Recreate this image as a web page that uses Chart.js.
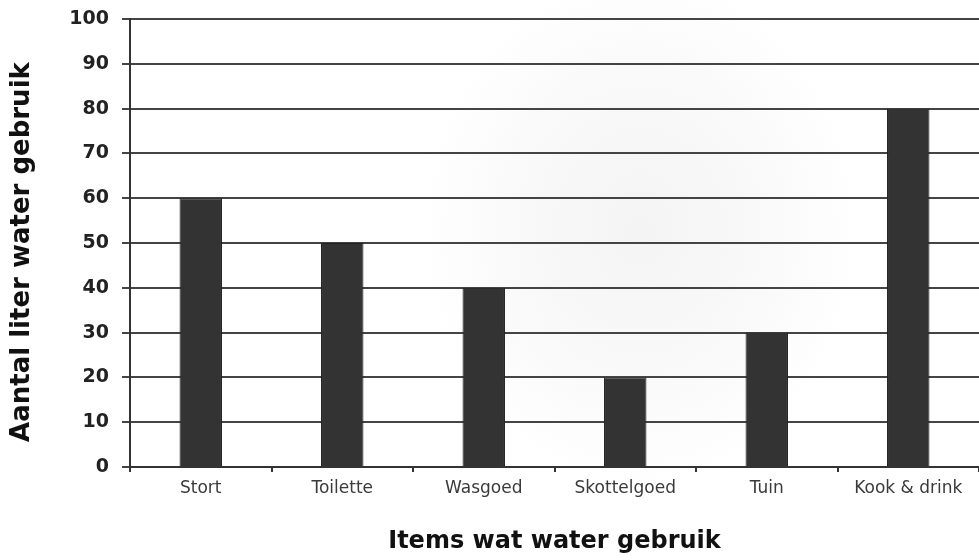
<!DOCTYPE html>
<html>
<head>
<meta charset="utf-8">
<script src="https://cdn.jsdelivr.net/npm/chart.js@4/dist/chart.umd.min.js"></script>
<style>
  html, body { margin: 0; padding: 0; }
  body {
    width: 979px; height: 560px; overflow: hidden;
    background: radial-gradient(ellipse 220px 260px at 640px 230px, #f4f4f4 0%, #f9f9f9 55%, #ffffff 100%);
  }
  #wrap { position: relative; width: 979px; height: 560px; }
</style>
</head>
<body>
<div id="wrap"><canvas id="waterChart"></canvas></div>
<script>
// Water use per item (liters)
const categories = ["Stort", "Toilette", "Wasgoed", "Skottelgoed", "Tuin", "Kook & drink"];
const liters = [60, 50, 40, 20, 30, 80];
const yTicks = [0, 10, 20, 30, 40, 50, 60, 70, 80, 90, 100];

document.addEventListener("DOMContentLoaded", function () {
  const ctx = document.getElementById("waterChart").getContext("2d");
  new Chart(ctx, {
    type: "bar",
    data: {
      labels: categories,
      datasets: [
        {
          label: "Liter",
          data: liters,
          backgroundColor: "#333333",
          borderColor: "#222222",
          borderWidth: 1,
          barPercentage: 0.3,
          categoryPercentage: 1.0,
        },
      ],
    },
    options: {
      responsive: true,
      maintainAspectRatio: false,
      animation: false,
      layout: { padding: { top: 19, right: 0, left: 0, bottom: 0 } },
      plugins: {
        legend: { display: false },
        tooltip: { enabled: false },
      },
      scales: {
        x: {
          offset: true,
          grid: {
            display: true,
            drawOnChartArea: false,
            drawTicks: true,
            tickLength: 5,
            color: "#333333",
            lineWidth: 2,
          },
          border: { display: true, color: "#333333", width: 2 },
          ticks: {
            padding: 6,
            color: "#3a3a3a",
            font: { family: "DejaVu Sans", size: 17 },
            maxRotation: 0,
            autoSkip: false,
          },
          title: {
            display: true,
            text: "Items wat water gebruik",
            color: "#111111",
            font: { family: "DejaVu Sans", size: 24, weight: "bold" },
            padding: { top: 0, bottom: 4 },
          },
          afterFit: function (scale) {
            scale.height = 93;
          },
        },
        y: {
          min: 0,
          max: 100,
          afterBuildTicks: function (scale) {
            scale.ticks = yTicks.map((v) => ({ value: v }));
          },
          grid: {
            color: "#444444",
            lineWidth: 2,
            drawTicks: true,
            tickLength: 8,
          },
          border: { display: true, color: "#333333", width: 2 },
          ticks: {
            padding: 13,
            color: "#222222",
            font: { family: "DejaVu Sans", size: 19, weight: "bold" },
          },
          title: {
            display: true,
            // trailing spaces nudge the rotated title down a little
            text: "Aantal liter water gebruik  ",
            color: "#111111",
            font: { family: "DejaVu Sans", size: 26, weight: "bold" },
            padding: { top: 7, bottom: 0 },
          },
          afterFit: function (scale) {
            scale.width = 130;
            // let the top label overhang instead of pushing the plot down
            scale.paddingTop = 0;
            scale.paddingBottom = 0;
          },
        },
      },
    },
  });
});
</script>
</body>
</html>
